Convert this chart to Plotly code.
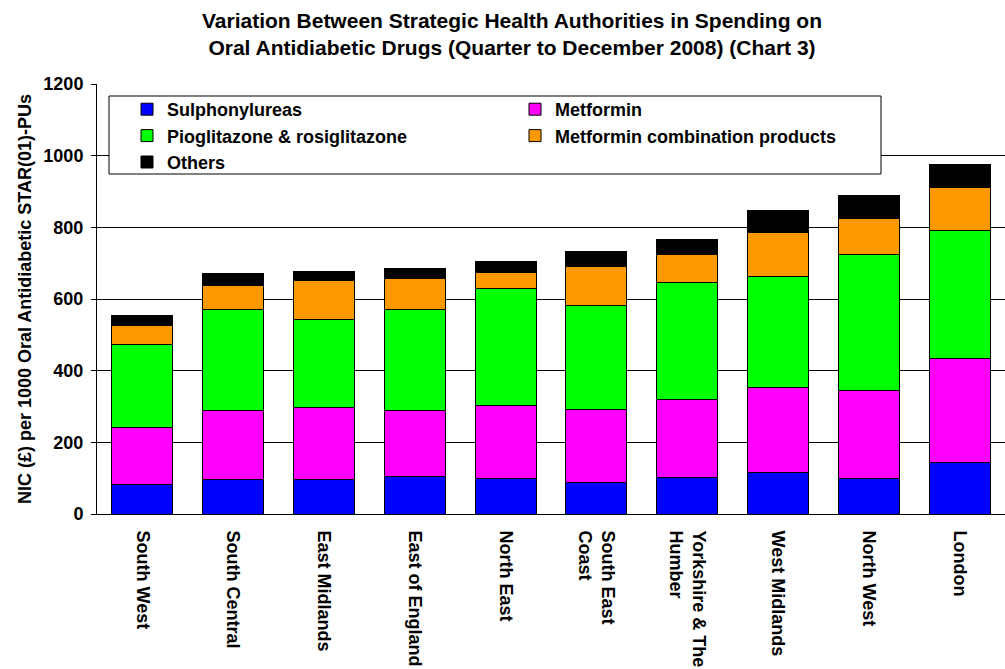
import plotly.graph_objects as go

# Strategic Health Authorities, ordered by total spend
regions = [
    "South West", "South Central", "East Midlands", "East of England",
    "North East", "South East<br>Coast", "Yorkshire & The<br>Humber",
    "West Midlands", "North West", "London",
]

# NIC (£) per 1000 Oral Antidiabetic STAR(01)-PUs, quarter to December 2008
sulphonylureas = [83, 96, 96, 104, 100, 89, 103, 117, 100, 144]
metformin = [158, 192, 200, 186, 203, 203, 216, 235, 246, 289]
glitazones = [231, 284, 248, 282, 327, 289, 328, 312, 378, 357]
metformin_combination = [55, 67, 109, 84, 43, 109, 77, 121, 100, 120]
others = [26, 32, 25, 29, 33, 42, 42, 61, 64, 65]

series = [
    ("Sulphonylureas", sulphonylureas, "#0000FF"),
    ("Metformin", metformin, "#FF00FF"),
    ("Pioglitazone & rosiglitazone", glitazones, "#00FF00"),
    ("Metformin combination products", metformin_combination, "#FF9900"),
    ("Others", others, "#000000"),
]

FONT = "Liberation Sans, Arial, sans-serif"
W, H = 1005, 669
L, R, T, B = 97, 0, 84, 155


def bold(size):
    return dict(family=FONT, size=size, color="#000000", weight="bold")


fig = go.Figure()
for name, values, color in series:
    fig.add_trace(go.Bar(
        name=name, x=regions, y=values,
        marker=dict(color=color, line=dict(color="#000000", width=1)),
    ))


def px_x(p):
    return (p - L) / (W - L - R)


def px_y(p):
    return (H - B - p) / (H - T - B)


fig.update_layout(
    width=W, height=H,
    margin=dict(l=L, r=R, t=T, b=B),
    barmode="stack", bargap=0.33,
    paper_bgcolor="white", plot_bgcolor="white",
    font=bold(18),
    title=dict(
        text="Variation Between Strategic Health Authorities in Spending on<br>"
             "Oral Antidiabetic Drugs (Quarter to December 2008) (Chart 3)",
        x=512 / W, xanchor="center", y=1 - 28 / H, yanchor="top",
        font=bold(21),
    ),
    showlegend=True,
    legend=dict(
        orientation="h", traceorder="normal",
        x=px_x(127), xanchor="left", y=px_y(91), yanchor="top",
        entrywidth=343, entrywidthmode="pixels",
        bgcolor="rgba(0,0,0,0)", borderwidth=0,
        font=bold(18),
    ),
    xaxis=dict(
        tickangle=90, showline=True, linecolor="#000000", linewidth=1,
        ticks="", showgrid=False, ticklabelstandoff=12,
        tickfont=bold(18),
    ),
    yaxis=dict(
        range=[0, 1200], dtick=200, showline=True, linecolor="#000000",
        linewidth=1, ticks="outside", ticklen=5, tickcolor="#000000",
        showgrid=True, gridcolor="#000000", gridwidth=1, zeroline=False,
        tickfont=bold(18), ticklabelstandoff=4,
        title=dict(
            text="NIC (£) per 1000 Oral Antidiabetic STAR(01)-PUs",
            font=bold(18), standoff=7,
        ),
    ),
    shapes=[dict(
        type="rect", xref="paper", yref="paper",
        x0=px_x(109), x1=px_x(881), y0=px_y(174), y1=px_y(96),
        fillcolor="white", line=dict(color="#000000", width=1), layer="above",
    )],
)

fig.write_html("out.html")
